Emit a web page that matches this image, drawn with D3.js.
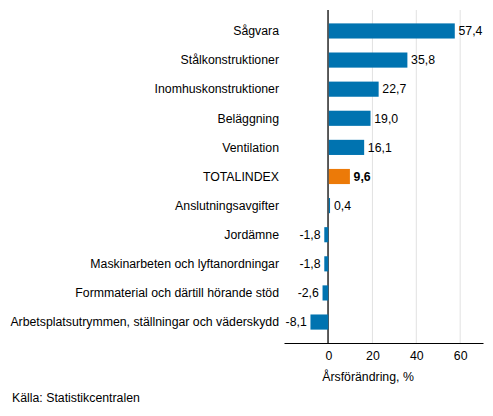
<!DOCTYPE html>
<html>
<head>
<meta charset="utf-8">
<script src="https://cdn.jsdelivr.net/npm/d3@7"></script>
<style>
  body { margin: 0; background: #fff; }
  svg text { font-family: "Liberation Sans", Arial, sans-serif; fill: #000; }
</style>
</head>
<body>
<div id="chart"></div>
<script>
// data
const categories = [
  "Sågvara",
  "Stålkonstruktioner",
  "Inomhuskonstruktioner",
  "Beläggning",
  "Ventilation",
  "TOTALINDEX",
  "Anslutningsavgifter",
  "Jordämne",
  "Maskinarbeten och lyftanordningar",
  "Formmaterial och därtill hörande stöd",
  "Arbetsplatsutrymmen, ställningar och väderskydd"
];
const values = [57.4, 35.8, 22.7, 19.0, 16.1, 9.6, 0.4, -1.8, -1.8, -2.6, -8.1];
const xTicks = [0, 20, 40, 60];
const totalName = "TOTALINDEX";

const width = 493, height = 416;
const margin = {top: 10, right: 10, bottom: 73, left: 284};
const fs = 12.3;

const svg = d3.select("#chart").append("svg")
  .attr("width", width)
  .attr("height", height);

const x = d3.scaleLinear()
  .domain([-20.3, 70.4])
  .range([margin.left, width - margin.right]);

const y = d3.scaleBand()
  .domain(categories)
  .range([margin.top, height - margin.bottom])
  .paddingInner(0.48)
  .paddingOuter(0.46);

const fmt = v => d3.format(".1f")(v).replace(".", ",").replace("−", "-");

// gridlines
svg.append("g")
  .selectAll("line")
  .data(xTicks.filter(t => t !== 0))
  .enter().append("line")
  .attr("x1", d => x(d)).attr("x2", d => x(d))
  .attr("y1", margin.top).attr("y2", height - margin.bottom)
  .attr("stroke", "#e1e1e1")
  .attr("stroke-width", 1);

// zero line
svg.append("line")
  .attr("x1", x(0) - 0.5).attr("x2", x(0) - 0.5)
  .attr("y1", margin.top).attr("y2", height - margin.bottom)
  .attr("stroke", "#333")
  .attr("stroke-width", 1.6);

// bars
svg.append("g")
  .selectAll("rect")
  .data(values)
  .enter().append("rect")
  .attr("x", d => d >= 0 ? x(0) + 0.3 : x(d) - 0.3)
  .attr("y", (d, i) => y(categories[i]))
  .attr("width", d => Math.max(1.2, Math.abs(x(d) - x(0))))
  .attr("height", y.bandwidth())
  .attr("fill", (d, i) => categories[i] === totalName ? "#ec7a08" : "#0073b0");

// value labels
svg.append("g")
  .selectAll("text")
  .data(values)
  .enter().append("text")
  .attr("x", d => d >= 0 ? Math.max(x(d), x(0) + 1.5) + 4 : x(d) - 4)
  .attr("y", (d, i) => y(categories[i]) + y.bandwidth() / 2)
  .attr("dy", "0.35em")
  .attr("text-anchor", d => d >= 0 ? "start" : "end")
  .attr("font-size", fs)
  .attr("font-weight", (d, i) => categories[i] === totalName ? "bold" : "normal")
  .text(d => fmt(d));

// category labels
svg.append("g")
  .selectAll("text")
  .data(categories)
  .enter().append("text")
  .attr("x", 279)
  .attr("y", d => y(d) + y.bandwidth() / 2)
  .attr("dy", "0.35em")
  .attr("text-anchor", "end")
  .attr("font-size", fs)
  .text(d => d);

// x axis
const xAxis = svg.append("g")
  .attr("transform", `translate(0,${height - margin.bottom})`)
  .call(d3.axisBottom(x).tickValues(xTicks).tickSize(0).tickPadding(8).tickFormat(d => d));
xAxis.select(".domain").attr("stroke", "#000").attr("stroke-width", 1);
xAxis.selectAll("text")
  .attr("font-size", fs)
  .attr("font-family", "Liberation Sans, Arial, sans-serif")
  .attr("fill", "#000");

svg.append("text")
  .attr("x", x(18))
  .attr("y", 381)
  .attr("text-anchor", "middle")
  .attr("font-size", fs)
  .text("Årsförändring, %");

svg.append("text")
  .attr("x", 12)
  .attr("y", 402)
  .attr("font-size", fs)
  .text("Källa: Statistikcentralen");
</script>
</body>
</html>
